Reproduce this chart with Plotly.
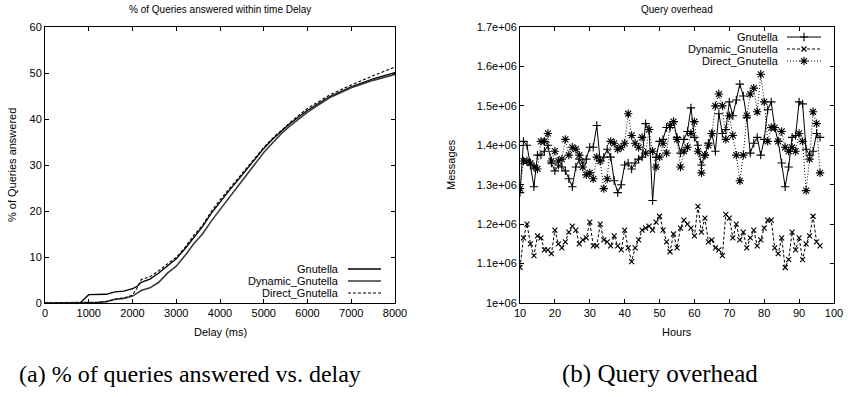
import plotly.graph_objects as go

# ---------------- data: left chart (percent answered vs delay) ----------------
delay_ms = [0, 800, 1000, 1200, 1400, 1600, 1800, 2000, 2100, 2200, 2400, 2600, 2800,
            3000, 3200, 3400, 3600, 3800, 4000, 4200, 4400, 4600, 4800, 5000, 5200,
            5400, 5600, 5800, 6000, 6500, 7000, 7500, 8000]
pct_gnutella = [0, 0, 1.8, 1.8, 1.9, 2.4, 2.6, 3.1, 3.6, 4.5, 5.2, 6.5, 8.0,
                9.6, 11.8, 14.3, 16.6, 19.5, 22.0, 24.3, 26.6, 28.9, 31.2, 33.6, 35.6,
                37.4, 39.0, 40.5, 41.9, 44.8, 47.0, 48.7, 50.1]
pct_dynamic = [0, 0, 0.1, 0.15, 0.3, 0.8, 1.0, 1.5, 2.1, 2.7, 3.3, 4.5, 6.5,
               8.0, 10.3, 12.9, 15.0, 17.8, 20.3, 22.8, 25.3, 27.8, 30.3, 32.7, 34.8,
               36.8, 38.5, 40.1, 41.5, 44.6, 46.8, 48.4, 49.7]
pct_direct = [0, 0, 0, 0.1, 0.3, 0.8, 1.1, 1.7, 3.2, 5.1, 5.7, 7.0, 8.5,
              9.9, 12.1, 14.7, 16.9, 19.9, 22.4, 24.7, 27.0, 29.2, 31.5, 33.8, 35.8,
              37.6, 39.2, 40.8, 42.3, 45.2, 47.4, 49.4, 51.3]

# ---------------- data: right chart (messages per hour) ----------------
hours = list(range(10, 97))
msg_gnutella = [1.28, 1.41, 1.40, 1.35, 1.295, 1.375, 1.375, 1.385, 1.40, 1.355,
                1.335, 1.35, 1.345, 1.335, 1.315, 1.295, 1.345, 1.365, 1.355, 1.365,
                1.395, 1.395, 1.45, 1.36, 1.37, 1.39, 1.37, 1.31, 1.28, 1.30,
                1.35, 1.355, 1.34, 1.355, 1.365, 1.37, 1.455, 1.44, 1.26, 1.37,
                1.41, 1.415, 1.445, 1.445, 1.46, 1.42, 1.38, 1.415, 1.435, 1.495,
                1.42, 1.40, 1.35, 1.375, 1.405, 1.43, 1.385, 1.48, 1.43, 1.44,
                1.51, 1.475, 1.515, 1.555, 1.525, 1.47, 1.38, 1.405, 1.42, 1.375,
                1.415, 1.49, 1.51, 1.445, 1.41, 1.355, 1.295, 1.345, 1.42, 1.425,
                1.51, 1.505, 1.39, 1.375, 1.385, 1.43, 1.42]
msg_dynamic = [1.09, 1.165, 1.20, 1.15, 1.12, 1.17, 1.165, 1.135, 1.135, 1.125,
               1.185, 1.15, 1.14, 1.155, 1.18, 1.195, 1.185, 1.15, 1.16, 1.165,
               1.205, 1.145, 1.145, 1.20, 1.16, 1.155, 1.145, 1.17, 1.145, 1.135,
               1.185, 1.14, 1.105, 1.14, 1.16, 1.185, 1.19, 1.195, 1.185, 1.205,
               1.22, 1.185, 1.155, 1.13, 1.175, 1.14, 1.19, 1.21, 1.20, 1.19,
               1.17, 1.245, 1.18, 1.215, 1.155, 1.16, 1.14, 1.135, 1.12, 1.225,
               1.215, 1.165, 1.20, 1.16, 1.18, 1.14, 1.165, 1.185, 1.145, 1.16,
               1.19, 1.21, 1.21, 1.14, 1.125, 1.165, 1.09, 1.11, 1.18, 1.135,
               1.165, 1.11, 1.15, 1.17, 1.22, 1.155, 1.145]
msg_direct = [1.29, 1.36, 1.36, 1.355, 1.345, 1.34, 1.41, 1.41, 1.43, 1.36,
              1.385, 1.36, 1.365, 1.415, 1.375, 1.395, 1.39, 1.375, 1.345, 1.325,
              1.33, 1.315, 1.37, 1.36, 1.29, 1.315, 1.41, 1.405, 1.39, 1.395,
              1.405, 1.48, 1.425, 1.405, 1.395, 1.42, 1.38, 1.44, 1.385, 1.345,
              1.37, 1.405, 1.38, 1.45, 1.46, 1.415, 1.345, 1.385, 1.395, 1.43,
              1.46, 1.385, 1.33, 1.375, 1.40, 1.43, 1.50, 1.53, 1.50, 1.415,
              1.475, 1.425, 1.375, 1.31, 1.375, 1.475, 1.53, 1.545, 1.485, 1.58,
              1.51, 1.41, 1.445, 1.445, 1.41, 1.435, 1.395, 1.385, 1.395, 1.385,
              1.43, 1.41, 1.285, 1.365, 1.485, 1.455, 1.33]
msg_scale = 1e6

left_xticks = [0, 1000, 2000, 3000, 4000, 5000, 6000, 7000, 8000]
left_yticks = [0, 10, 20, 30, 40, 50, 60]
right_xticks = [10, 20, 30, 40, 50, 60, 70, 80, 90, 100]
right_yticks = [1.0e6, 1.1e6, 1.2e6, 1.3e6, 1.4e6, 1.5e6, 1.6e6, 1.7e6]
right_ytext = ["1e+06", "1.1e+06", "1.2e+06", "1.3e+06", "1.4e+06", "1.5e+06", "1.6e+06", "1.7e+06"]

series_names = ["Gnutella", "Dynamic_Gnutella", "Direct_Gnutella"]

W, H = 848, 397
FONT = "Liberation Sans, Arial, Helvetica, sans-serif"
SERIF = "Liberation Serif, Times New Roman, serif"

fig = go.Figure()

# ---------------- left chart ----------------
left_styles = [dict(color="black", width=1.3, dash="solid"),
               dict(color="#3a3a3a", width=1.6, dash="solid"),
               dict(color="black", width=1.1, dash="3px,2px")]
for name, ys, st in zip(series_names, [pct_gnutella, pct_dynamic, pct_direct], left_styles):
    fig.add_trace(go.Scatter(x=delay_ms, y=ys, mode="lines", name=name, line=st,
                             xaxis="x", yaxis="y", showlegend=False))

# ---------------- right chart ----------------
right_styles = [
    (dict(color="black", width=1, dash="solid"), dict(symbol="cross-thin", size=6, line=dict(color="black", width=1.1))),
    (dict(color="black", width=1, dash="3px,2px"), dict(symbol="x-thin", size=5, line=dict(color="black", width=1.1))),
    (dict(color="black", width=1, dash="1px,2px"), dict(symbol="asterisk", size=7, line=dict(color="black", width=1.1))),
]
for name, ys, (ln, mk) in zip(series_names, [msg_gnutella, msg_dynamic, msg_direct], right_styles):
    fig.add_trace(go.Scatter(x=hours, y=[v * msg_scale for v in ys], mode="lines+markers", name=name,
                             line=ln, marker=mk, xaxis="x2", yaxis="y2", showlegend=False))

# ---------------- gnuplot-like legends (pixel overlay axis) ----------------
def legend_rows(x_text, x0, x1, y_rows, styles, with_markers):
    for i, (name, yy) in enumerate(zip(series_names, y_rows)):
        if with_markers:
            ln, mk = styles[i]
            fig.add_trace(go.Scatter(x=[x0, x1], y=[yy, yy], mode="lines", line=ln,
                                     xaxis="x3", yaxis="y3", showlegend=False, hoverinfo="skip"))
            fig.add_trace(go.Scatter(x=[(x0 + x1) / 2], y=[yy], mode="markers", marker=mk,
                                     xaxis="x3", yaxis="y3", showlegend=False, hoverinfo="skip"))
        else:
            fig.add_trace(go.Scatter(x=[x0, x1], y=[yy, yy], mode="lines", line=styles[i],
                                     xaxis="x3", yaxis="y3", showlegend=False, hoverinfo="skip"))
        fig.add_annotation(x=x_text, y=yy, xref="x3", yref="y3", text=name, showarrow=False,
                           xanchor="right", yanchor="middle", font=dict(family=FONT, size=11, color="black"))

legend_rows(341, 348, 381, [269, 281, 293], left_styles, False)
legend_rows(781, 787, 821, [37, 49, 61], right_styles, True)

# ---------------- axes ----------------
ytop, ybot = 1 - 27 / H, 1 - 303 / H
axis_common = dict(showgrid=False, zeroline=False, showline=True, linecolor="black", linewidth=1,
                   mirror="ticks", ticks="inside", ticklen=4, tickcolor="black", tickwidth=1,
                   automargin=False, tickfont=dict(family=FONT, size=11, color="black"))
fig.update_layout(
    width=W, height=H, margin=dict(l=0, r=0, t=0, b=0, pad=0),
    paper_bgcolor="white", plot_bgcolor="rgba(0,0,0,0)",
    xaxis=dict(axis_common, domain=[45 / W, 395 / W], range=[0, 8000], tickvals=left_xticks, anchor="y"),
    yaxis=dict(axis_common, domain=[ybot, ytop], range=[0, 60], tickvals=left_yticks, anchor="x"),
    xaxis2=dict(axis_common, domain=[520 / W, 834 / W], range=[10, 100], tickvals=right_xticks, anchor="y2"),
    yaxis2=dict(axis_common, domain=[ybot, ytop], range=[1.0e6, 1.7e6], tickvals=right_yticks,
                ticktext=right_ytext, anchor="x2"),
    xaxis3=dict(domain=[0, 1], range=[0, W], visible=False, anchor="y3", fixedrange=True, automargin=False),
    yaxis3=dict(domain=[0, 1], range=[H, 0], visible=False, anchor="x3", fixedrange=True, automargin=False),
    showlegend=False,
)

# ---------------- text: titles, axis titles, captions ----------------
def label(x, y, text, size=11, family=FONT, angle=0):
    fig.add_annotation(x=x, y=y, xref="x3", yref="y3", text=text, showarrow=False,
                       xanchor="center", yanchor="middle", textangle=angle,
                       font=dict(family=family, size=size, color="black"))

label(220, 9, "% of Queries answered within time Delay", size=10)
label(677, 9, "Query overhead", size=10)
label(220, 332, "Delay (ms)")
label(677, 332, "Hours")
label(12, 165, "% of Queries answered", angle=-90)
label(451, 165, "Messages", angle=-90)
label(190, 374, "(a) % of queries answered vs. delay", size=24, family=SERIF)
label(660, 374, "(b) Query overhead", size=25, family=SERIF)

fig.write_html("out.html")
